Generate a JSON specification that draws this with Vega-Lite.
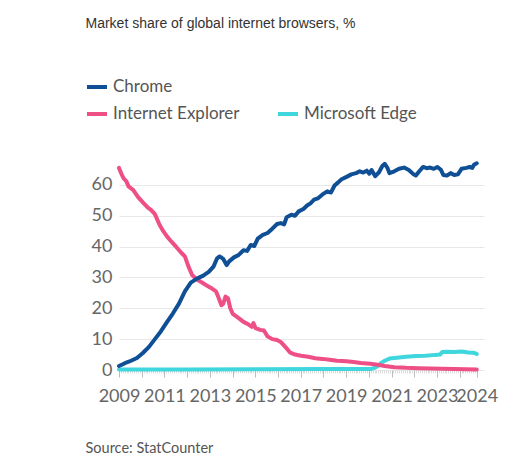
{
  "$schema": "https://vega.github.io/schema/vega-lite/v6.json",
  "width": 365,
  "height": 216,
  "autosize": {"type": "none"},
  "padding": {"left": 119, "top": 154, "right": 46, "bottom": 100},
  "background": "white",
  "config": {"view": {"stroke": null}},
  "data": {"values": [
    {"browser": "Microsoft Edge", "year": 2009.0, "share": 0.2},
    {"browser": "Microsoft Edge", "year": 2012.0, "share": 0.2},
    {"browser": "Microsoft Edge", "year": 2015.0, "share": 0.25},
    {"browser": "Microsoft Edge", "year": 2018.0, "share": 0.3},
    {"browser": "Microsoft Edge", "year": 2020.07, "share": 0.3},
    {"browser": "Microsoft Edge", "year": 2020.28, "share": 0.8},
    {"browser": "Microsoft Edge", "year": 2020.44, "share": 1.5},
    {"browser": "Microsoft Edge", "year": 2020.54, "share": 2.3},
    {"browser": "Microsoft Edge", "year": 2020.70, "share": 3.0},
    {"browser": "Microsoft Edge", "year": 2020.91, "share": 3.7},
    {"browser": "Microsoft Edge", "year": 2021.23, "share": 4.0},
    {"browser": "Microsoft Edge", "year": 2021.65, "share": 4.3},
    {"browser": "Microsoft Edge", "year": 2022.07, "share": 4.5},
    {"browser": "Microsoft Edge", "year": 2022.49, "share": 4.6},
    {"browser": "Microsoft Edge", "year": 2022.92, "share": 4.9},
    {"browser": "Microsoft Edge", "year": 2023.13, "share": 5.0},
    {"browser": "Microsoft Edge", "year": 2023.23, "share": 5.8},
    {"browser": "Microsoft Edge", "year": 2023.44, "share": 5.9},
    {"browser": "Microsoft Edge", "year": 2023.76, "share": 5.8},
    {"browser": "Microsoft Edge", "year": 2024.08, "share": 6.0},
    {"browser": "Microsoft Edge", "year": 2024.39, "share": 5.7},
    {"browser": "Microsoft Edge", "year": 2024.60, "share": 5.6},
    {"browser": "Microsoft Edge", "year": 2024.75, "share": 5.2},

    {"browser": "Internet Explorer", "year": 2009.0, "share": 65.5},
    {"browser": "Internet Explorer", "year": 2009.11, "share": 63.5},
    {"browser": "Internet Explorer", "year": 2009.21, "share": 62.0},
    {"browser": "Internet Explorer", "year": 2009.32, "share": 61.2},
    {"browser": "Internet Explorer", "year": 2009.42, "share": 59.5},
    {"browser": "Internet Explorer", "year": 2009.63, "share": 58.3},
    {"browser": "Internet Explorer", "year": 2009.84, "share": 56.0},
    {"browser": "Internet Explorer", "year": 2010.05, "share": 54.3},
    {"browser": "Internet Explorer", "year": 2010.27, "share": 52.6},
    {"browser": "Internet Explorer", "year": 2010.42, "share": 51.8},
    {"browser": "Internet Explorer", "year": 2010.58, "share": 50.5},
    {"browser": "Internet Explorer", "year": 2010.79, "share": 47.0},
    {"browser": "Internet Explorer", "year": 2010.95, "share": 45.0},
    {"browser": "Internet Explorer", "year": 2011.11, "share": 43.3},
    {"browser": "Internet Explorer", "year": 2011.32, "share": 41.5},
    {"browser": "Internet Explorer", "year": 2011.53, "share": 39.8},
    {"browser": "Internet Explorer", "year": 2011.74, "share": 38.0},
    {"browser": "Internet Explorer", "year": 2011.90, "share": 36.8},
    {"browser": "Internet Explorer", "year": 2012.06, "share": 33.5},
    {"browser": "Internet Explorer", "year": 2012.22, "share": 30.8},
    {"browser": "Internet Explorer", "year": 2012.43, "share": 29.3},
    {"browser": "Internet Explorer", "year": 2012.69, "share": 28.2},
    {"browser": "Internet Explorer", "year": 2012.90, "share": 27.2},
    {"browser": "Internet Explorer", "year": 2013.11, "share": 26.3},
    {"browser": "Internet Explorer", "year": 2013.27, "share": 25.5},
    {"browser": "Internet Explorer", "year": 2013.38, "share": 23.5},
    {"browser": "Internet Explorer", "year": 2013.51, "share": 21.0},
    {"browser": "Internet Explorer", "year": 2013.59, "share": 21.5},
    {"browser": "Internet Explorer", "year": 2013.69, "share": 23.8},
    {"browser": "Internet Explorer", "year": 2013.80, "share": 23.2},
    {"browser": "Internet Explorer", "year": 2013.90, "share": 20.0},
    {"browser": "Internet Explorer", "year": 2014.01, "share": 18.2},
    {"browser": "Internet Explorer", "year": 2014.27, "share": 16.8},
    {"browser": "Internet Explorer", "year": 2014.48, "share": 15.6},
    {"browser": "Internet Explorer", "year": 2014.69, "share": 14.8},
    {"browser": "Internet Explorer", "year": 2014.85, "share": 14.0},
    {"browser": "Internet Explorer", "year": 2014.92, "share": 15.2},
    {"browser": "Internet Explorer", "year": 2015.01, "share": 13.6},
    {"browser": "Internet Explorer", "year": 2015.22, "share": 13.0},
    {"browser": "Internet Explorer", "year": 2015.38, "share": 12.8},
    {"browser": "Internet Explorer", "year": 2015.54, "share": 10.9},
    {"browser": "Internet Explorer", "year": 2015.75, "share": 10.0},
    {"browser": "Internet Explorer", "year": 2015.96, "share": 9.7},
    {"browser": "Internet Explorer", "year": 2016.12, "share": 9.1},
    {"browser": "Internet Explorer", "year": 2016.38, "share": 7.0},
    {"browser": "Internet Explorer", "year": 2016.54, "share": 5.6},
    {"browser": "Internet Explorer", "year": 2016.75, "share": 5.0},
    {"browser": "Internet Explorer", "year": 2017.01, "share": 4.6},
    {"browser": "Internet Explorer", "year": 2017.33, "share": 4.3},
    {"browser": "Internet Explorer", "year": 2017.64, "share": 3.8},
    {"browser": "Internet Explorer", "year": 2017.96, "share": 3.6},
    {"browser": "Internet Explorer", "year": 2018.28, "share": 3.3},
    {"browser": "Internet Explorer", "year": 2018.59, "share": 3.0},
    {"browser": "Internet Explorer", "year": 2019.02, "share": 2.8},
    {"browser": "Internet Explorer", "year": 2019.33, "share": 2.6},
    {"browser": "Internet Explorer", "year": 2019.65, "share": 2.3},
    {"browser": "Internet Explorer", "year": 2020.07, "share": 2.0},
    {"browser": "Internet Explorer", "year": 2020.39, "share": 1.7},
    {"browser": "Internet Explorer", "year": 2020.70, "share": 1.3},
    {"browser": "Internet Explorer", "year": 2021.12, "share": 0.9},
    {"browser": "Internet Explorer", "year": 2021.65, "share": 0.7},
    {"browser": "Internet Explorer", "year": 2022.18, "share": 0.6},
    {"browser": "Internet Explorer", "year": 2022.70, "share": 0.5},
    {"browser": "Internet Explorer", "year": 2023.23, "share": 0.4},
    {"browser": "Internet Explorer", "year": 2023.76, "share": 0.3},
    {"browser": "Internet Explorer", "year": 2024.29, "share": 0.25},
    {"browser": "Internet Explorer", "year": 2024.75, "share": 0.2},

    {"browser": "Chrome", "year": 2009.0, "share": 1.3},
    {"browser": "Chrome", "year": 2009.26, "share": 2.2},
    {"browser": "Chrome", "year": 2009.53, "share": 3.0},
    {"browser": "Chrome", "year": 2009.79, "share": 3.9},
    {"browser": "Chrome", "year": 2010.05, "share": 5.5},
    {"browser": "Chrome", "year": 2010.32, "share": 7.5},
    {"browser": "Chrome", "year": 2010.58, "share": 10.0},
    {"browser": "Chrome", "year": 2010.84, "share": 12.5},
    {"browser": "Chrome", "year": 2011.11, "share": 15.5},
    {"browser": "Chrome", "year": 2011.37, "share": 18.3},
    {"browser": "Chrome", "year": 2011.64, "share": 21.5},
    {"browser": "Chrome", "year": 2011.90, "share": 25.5},
    {"browser": "Chrome", "year": 2012.16, "share": 28.3},
    {"browser": "Chrome", "year": 2012.43, "share": 29.6},
    {"browser": "Chrome", "year": 2012.69, "share": 30.5},
    {"browser": "Chrome", "year": 2012.95, "share": 31.8},
    {"browser": "Chrome", "year": 2013.16, "share": 33.5},
    {"browser": "Chrome", "year": 2013.32, "share": 36.2},
    {"browser": "Chrome", "year": 2013.43, "share": 36.8},
    {"browser": "Chrome", "year": 2013.59, "share": 36.0},
    {"browser": "Chrome", "year": 2013.74, "share": 34.0},
    {"browser": "Chrome", "year": 2013.85, "share": 35.2},
    {"browser": "Chrome", "year": 2014.06, "share": 36.5},
    {"browser": "Chrome", "year": 2014.27, "share": 37.3},
    {"browser": "Chrome", "year": 2014.48, "share": 38.8},
    {"browser": "Chrome", "year": 2014.64, "share": 38.6},
    {"browser": "Chrome", "year": 2014.80, "share": 40.5},
    {"browser": "Chrome", "year": 2014.96, "share": 40.2},
    {"browser": "Chrome", "year": 2015.11, "share": 42.6},
    {"browser": "Chrome", "year": 2015.33, "share": 43.8},
    {"browser": "Chrome", "year": 2015.54, "share": 44.4},
    {"browser": "Chrome", "year": 2015.75, "share": 45.8},
    {"browser": "Chrome", "year": 2015.96, "share": 47.3},
    {"browser": "Chrome", "year": 2016.12, "share": 47.6},
    {"browser": "Chrome", "year": 2016.27, "share": 47.2},
    {"browser": "Chrome", "year": 2016.38, "share": 49.5},
    {"browser": "Chrome", "year": 2016.59, "share": 50.3},
    {"browser": "Chrome", "year": 2016.75, "share": 50.0},
    {"browser": "Chrome", "year": 2016.91, "share": 51.4},
    {"browser": "Chrome", "year": 2017.12, "share": 52.2},
    {"browser": "Chrome", "year": 2017.28, "share": 53.3},
    {"browser": "Chrome", "year": 2017.43, "share": 54.0},
    {"browser": "Chrome", "year": 2017.59, "share": 55.2},
    {"browser": "Chrome", "year": 2017.75, "share": 55.6},
    {"browser": "Chrome", "year": 2017.96, "share": 56.9},
    {"browser": "Chrome", "year": 2018.17, "share": 57.9},
    {"browser": "Chrome", "year": 2018.33, "share": 57.5},
    {"browser": "Chrome", "year": 2018.49, "share": 59.8},
    {"browser": "Chrome", "year": 2018.65, "share": 60.8},
    {"browser": "Chrome", "year": 2018.80, "share": 61.8},
    {"browser": "Chrome", "year": 2019.02, "share": 62.6},
    {"browser": "Chrome", "year": 2019.23, "share": 63.4},
    {"browser": "Chrome", "year": 2019.44, "share": 63.8},
    {"browser": "Chrome", "year": 2019.60, "share": 64.4},
    {"browser": "Chrome", "year": 2019.75, "share": 64.0},
    {"browser": "Chrome", "year": 2019.91, "share": 64.6},
    {"browser": "Chrome", "year": 2020.02, "share": 63.6},
    {"browser": "Chrome", "year": 2020.12, "share": 64.8},
    {"browser": "Chrome", "year": 2020.28, "share": 62.8},
    {"browser": "Chrome", "year": 2020.44, "share": 64.0},
    {"browser": "Chrome", "year": 2020.60, "share": 66.2},
    {"browser": "Chrome", "year": 2020.70, "share": 66.8},
    {"browser": "Chrome", "year": 2020.81, "share": 65.6},
    {"browser": "Chrome", "year": 2020.91, "share": 63.8},
    {"browser": "Chrome", "year": 2021.12, "share": 64.4},
    {"browser": "Chrome", "year": 2021.33, "share": 65.2},
    {"browser": "Chrome", "year": 2021.55, "share": 65.6},
    {"browser": "Chrome", "year": 2021.76, "share": 64.8},
    {"browser": "Chrome", "year": 2021.97, "share": 63.4},
    {"browser": "Chrome", "year": 2022.07, "share": 63.0},
    {"browser": "Chrome", "year": 2022.23, "share": 64.5},
    {"browser": "Chrome", "year": 2022.39, "share": 65.8},
    {"browser": "Chrome", "year": 2022.55, "share": 65.4},
    {"browser": "Chrome", "year": 2022.70, "share": 65.6},
    {"browser": "Chrome", "year": 2022.86, "share": 65.2},
    {"browser": "Chrome", "year": 2023.02, "share": 65.8},
    {"browser": "Chrome", "year": 2023.18, "share": 64.8},
    {"browser": "Chrome", "year": 2023.28, "share": 63.2},
    {"browser": "Chrome", "year": 2023.44, "share": 63.0},
    {"browser": "Chrome", "year": 2023.60, "share": 63.8},
    {"browser": "Chrome", "year": 2023.76, "share": 63.2},
    {"browser": "Chrome", "year": 2023.92, "share": 63.4},
    {"browser": "Chrome", "year": 2024.08, "share": 65.2},
    {"browser": "Chrome", "year": 2024.29, "share": 65.5},
    {"browser": "Chrome", "year": 2024.44, "share": 65.8},
    {"browser": "Chrome", "year": 2024.55, "share": 65.5},
    {"browser": "Chrome", "year": 2024.63, "share": 66.5},
    {"browser": "Chrome", "year": 2024.75, "share": 67.0}
  ]},
  "mark": {"type": "line", "strokeWidth": 4, "strokeCap": "round", "strokeJoin": "round"},
  "encoding": {
    "x": {
      "field": "year", "type": "quantitative",
      "scale": {"domain": [2009, 2025.07], "nice": false, "zero": false},
      "axis": {
        "values": [2009,2009.083,2009.167,2009.25,2009.333,2009.417,2009.5,2009.583,2009.667,2009.75,2009.833,2009.917,
                   2010,2010.083,2010.167,2010.25,2010.333,2010.417,2010.5,2010.583,2010.667,2010.75,2010.833,2010.917,
                   2011,2011.083,2011.167,2011.25,2011.333,2011.417,2011.5,2011.583,2011.667,2011.75,2011.833,2011.917,
                   2012,2012.083,2012.167,2012.25,2012.333,2012.417,2012.5,2012.583,2012.667,2012.75,2012.833,2012.917,
                   2013,2013.083,2013.167,2013.25,2013.333,2013.417,2013.5,2013.583,2013.667,2013.75,2013.833,2013.917,
                   2014,2014.083,2014.167,2014.25,2014.333,2014.417,2014.5,2014.583,2014.667,2014.75,2014.833,2014.917,
                   2015,2015.083,2015.167,2015.25,2015.333,2015.417,2015.5,2015.583,2015.667,2015.75,2015.833,2015.917,
                   2016,2016.083,2016.167,2016.25,2016.333,2016.417,2016.5,2016.583,2016.667,2016.75,2016.833,2016.917,
                   2017,2017.083,2017.167,2017.25,2017.333,2017.417,2017.5,2017.583,2017.667,2017.75,2017.833,2017.917,
                   2018,2018.083,2018.167,2018.25,2018.333,2018.417,2018.5,2018.583,2018.667,2018.75,2018.833,2018.917,
                   2019,2019.083,2019.167,2019.25,2019.333,2019.417,2019.5,2019.583,2019.667,2019.75,2019.833,2019.917,
                   2020,2020.083,2020.167,2020.25,2020.333,2020.417,2020.5,2020.583,2020.667,2020.75,2020.833,2020.917,
                   2021,2021.083,2021.167,2021.25,2021.333,2021.417,2021.5,2021.583,2021.667,2021.75,2021.833,2021.917,
                   2022,2022.083,2022.167,2022.25,2022.333,2022.417,2022.5,2022.583,2022.667,2022.75,2022.833,2022.917,
                   2023,2023.083,2023.167,2023.25,2023.333,2023.417,2023.5,2023.583,2023.667,2023.75,2023.833,2023.917,
                   2024,2024.083,2024.167,2024.25,2024.333,2024.417,2024.5,2024.583,2024.667,2024.75],
        "labelExpr": "datum.value == 2024.75 ? '2024' : ((datum.value == round(datum.value) && datum.value % 2 == 1) ? format(datum.value, 'd') : '')",
        "labelOverlap": false,
        "labelFlush": false,
        "grid": false,
        "domain": false,
        "tickSize": {"condition": {"test": "datum.value == round(datum.value) || datum.value == 2024.75", "value": 7}, "value": 3},
        "tickColor": {"condition": {"test": "datum.value == round(datum.value) || datum.value == 2024.75", "value": "#bdbdbd"}, "value": "#dcdcdc"},
        "tickWidth": 1,
        "labelPadding": 10,
        "labelFont": "Lato",
        "labelFontSize": 18,
        "labelColor": "#666666",
        "title": "Source: StatCounter",
        "titleX": -34,
        "titleY": 82,
        "titleAlign": "left",
        "titleAnchor": "start",
        "titleBaseline": "alphabetic",
        "titleFont": "Lato",
        "titleFontSize": 14.5,
        "titleFontWeight": "normal",
        "titleColor": "#555555"
      }
    },
    "y": {
      "field": "share", "type": "quantitative",
      "scale": {"domain": [0, 70], "nice": false},
      "axis": {
        "values": [0, 10, 20, 30, 40, 50, 60],
        "grid": true,
        "gridColor": "#e8e8e8",
        "gridWidth": 1,
        "domain": false,
        "ticks": false,
        "labelPadding": 7,
        "labelFont": "Lato",
        "labelFontSize": 18,
        "labelColor": "#666666",
        "title": "Market share of global internet browsers, %",
        "titleAngle": 0,
        "titleX": -34,
        "titleY": -127,
        "titleAlign": "left",
        "titleAnchor": "start",
        "titleBaseline": "alphabetic",
        "titleFont": "Liberation Sans",
        "titleFontSize": 14,
        "titleFontWeight": "normal",
        "titleColor": "#333333"
      }
    },
    "color": {
      "field": "browser", "type": "nominal",
      "scale": {
        "domain": ["Chrome", "", "Internet Explorer", "Microsoft Edge"],
        "range": ["#0f4f95", "transparent", "#ef4f87", "#40d6de"]
      },
      "legend": {
        "orient": "none",
        "legendX": -34,
        "legendY": -79,
        "direction": "horizontal",
        "columns": 2,
        "title": null,
        "symbolType": "stroke",
        "symbolStrokeWidth": 4,
        "symbolSize": 400,
        "labelFont": "Lato",
        "labelFontSize": 17,
        "labelColor": "#555555",
        "labelOffset": 4,
        "rowPadding": 7,
        "columnPadding": 30,
        "labelLimit": 300
      }
    }
  }
}
